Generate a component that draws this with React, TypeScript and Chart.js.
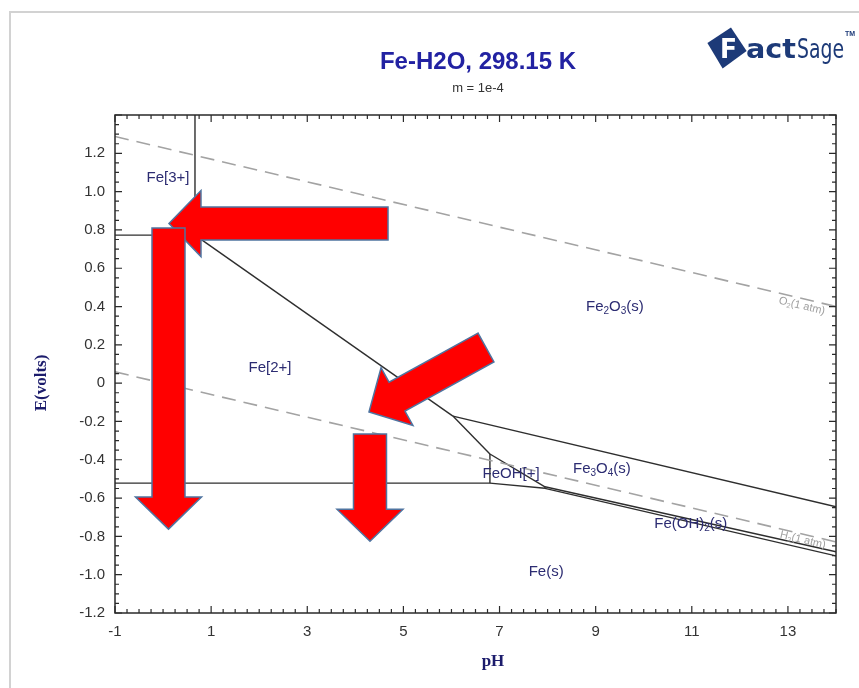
import React, { useEffect, useRef } from 'react';
import { Chart, registerables } from 'chart.js';

Chart.register(...registerables);

type Pt = { x: number; y: number };

// ---- axes ----
const PH_MIN = -1;
const PH_MAX = 14;
const E_MIN = -1.2;
const E_MAX = 1.4;
const X_TICKS = [-1, 1, 3, 5, 7, 9, 11, 13];
const Y_TICKS = [-1.2, -1.0, -0.8, -0.6, -0.4, -0.2, 0, 0.2, 0.4, 0.6, 0.8, 1.0, 1.2];

// ---- phase boundaries (pH, E volts) ----
const FE3_FE2O3: Pt[] = [{ x: 0.664, y: 1.4 }, { x: 0.664, y: 0.773 }];
const FE3_FE2: Pt[] = [{ x: -1, y: 0.773 }, { x: 0.664, y: 0.773 }];
const FE2_FE2O3: Pt[] = [{ x: 0.664, y: 0.773 }, { x: 6.03, y: -0.172 }];
const FE2_FE3O4: Pt[] = [{ x: 6.03, y: -0.172 }, { x: 6.8, y: -0.37 }];
const FE2O3_FE3O4: Pt[] = [{ x: 6.03, y: -0.172 }, { x: 14, y: -0.645 }];
const FE2_FEOH: Pt[] = [{ x: 6.8, y: -0.37 }, { x: 6.8, y: -0.522 }];
const FE2_FE: Pt[] = [{ x: -1, y: -0.522 }, { x: 6.8, y: -0.522 }];
const FEOH_FE3O4: Pt[] = [{ x: 6.8, y: -0.37 }, { x: 7.945, y: -0.541 }];
const FEOH_FE: Pt[] = [{ x: 6.8, y: -0.522 }, { x: 7.945, y: -0.549 }];
const FEOH_FEOH2: Pt[] = [{ x: 7.945, y: -0.541 }, { x: 7.945, y: -0.549 }];
const FE3O4_FEOH2: Pt[] = [{ x: 7.945, y: -0.541 }, { x: 14, y: -0.88 }];
const FEOH2_FE: Pt[] = [{ x: 7.945, y: -0.549 }, { x: 14, y: -0.902 }];

// ---- water stability lines ----
const O2_LINE: Pt[] = [{ x: -1, y: 1.288 }, { x: 14, y: 0.4 }];
const H2_LINE: Pt[] = [{ x: -1, y: 0.059 }, { x: 14, y: -0.829 }];

// ---- labels ----
const REGION_LABELS = [
  { text: 'Fe[3+]', x: 0.103, y: 1.071 },
  { text: 'Fe[2+]', x: 2.224, y: 0.079 },
  { text: 'Fe_2O_3(s)', x: 9.4, y: 0.397 },
  { text: 'Fe_3O_4(s)', x: 9.13, y: -0.449 },
  { text: 'FeOH[+]', x: 7.24, y: -0.475 },
  { text: 'Fe(OH)_2(s)', x: 10.98, y: -0.736 },
  { text: 'Fe(s)', x: 7.97, y: -0.986 },
];
const GAS_LABELS = [
  { text: 'O_2(1 atm)', x: 13.29, y: 0.403, line: O2_LINE },
  { text: 'H_2(1 atm)', x: 13.31, y: -0.819, line: H2_LINE },
];

// ---- annotation arrows (tail -> tip, in pH/E) ----
const ARROWS = [
  { from: { x: 4.68, y: 0.833 }, to: { x: 0.123, y: 0.833 } },
  { from: { x: 0.113, y: 0.81 }, to: { x: 0.113, y: -0.762 } },
  { from: { x: 6.718, y: 0.186 }, to: { x: 4.284, y: -0.151 } },
  { from: { x: 4.305, y: -0.266 }, to: { x: 4.305, y: -0.825 } },
];

const TITLE = 'Fe-H2O, 298.15 K';
const SUBTITLE = 'm = 1e-4';
const X_TITLE = 'pH';
const Y_TITLE = 'E(volts)';

const SANS = "'Liberation Sans', Arial, sans-serif";
const SERIF = "'Liberation Serif', 'Times New Roman', serif";

function drawRich(ctx: CanvasRenderingContext2D, text: string, cx: number, cy: number, size: number, color: string) {
  const segs: { t: string; sub: boolean }[] = [];
  let buf = '';
  for (let i = 0; i < text.length; i++) {
    if (text[i] === '_' && i + 1 < text.length) {
      if (buf) segs.push({ t: buf, sub: false });
      buf = '';
      segs.push({ t: text[i + 1], sub: true });
      i++;
    } else buf += text[i];
  }
  if (buf) segs.push({ t: buf, sub: false });
  const subSize = Math.round(size * 0.68);
  let total = 0;
  const widths = segs.map((s) => {
    ctx.font = `${s.sub ? subSize : size}px ${SANS}`;
    const w = ctx.measureText(s.t).width;
    total += w;
    return w;
  });
  let x = cx - total / 2;
  ctx.fillStyle = color;
  ctx.textAlign = 'left';
  ctx.textBaseline = 'middle';
  segs.forEach((s, i) => {
    ctx.font = `${s.sub ? subSize : size}px ${SANS}`;
    ctx.fillText(s.t, x, s.sub ? cy + size * 0.3 : cy);
    x += widths[i];
  });
}

function drawArrow(ctx: CanvasRenderingContext2D, x1: number, y1: number, x2: number, y2: number) {
  const bodyHalf = 16.5;
  const headHalf = 33;
  const headLen = 32;
  const dx = x2 - x1;
  const dy = y2 - y1;
  const len = Math.hypot(dx, dy);
  const ux = dx / len;
  const uy = dy / len;
  const nx = -uy;
  const ny = ux;
  const bx = x2 - ux * headLen;
  const by = y2 - uy * headLen;
  ctx.beginPath();
  ctx.moveTo(x1 + nx * bodyHalf, y1 + ny * bodyHalf);
  ctx.lineTo(bx + nx * bodyHalf, by + ny * bodyHalf);
  ctx.lineTo(bx + nx * headHalf, by + ny * headHalf);
  ctx.lineTo(x2, y2);
  ctx.lineTo(bx - nx * headHalf, by - ny * headHalf);
  ctx.lineTo(bx - nx * bodyHalf, by - ny * bodyHalf);
  ctx.lineTo(x1 - nx * bodyHalf, y1 - ny * bodyHalf);
  ctx.closePath();
  ctx.fillStyle = '#ff0000';
  ctx.fill();
  ctx.strokeStyle = '#4f74a0';
  ctx.lineWidth = 1.5;
  ctx.lineJoin = 'miter';
  ctx.stroke();
}

function fitText(ctx: CanvasRenderingContext2D, text: string, x: number, y: number, w: number) {
  const m = ctx.measureText(text).width;
  ctx.save();
  ctx.translate(x, y);
  ctx.scale(w / m, 1);
  ctx.fillText(text, 0, 0);
  ctx.restore();
}

const decorPlugin = {
  id: 'decor',
  beforeDraw(chart: any) {
    const ctx: CanvasRenderingContext2D = chart.ctx;
    ctx.save();
    ctx.strokeStyle = '#d2d2d2';
    ctx.lineWidth = 2;
    ctx.beginPath();
    ctx.moveTo(10, 700);
    ctx.lineTo(10, 12);
    ctx.lineTo(870, 12);
    ctx.stroke();
    ctx.restore();
  },
  afterDatasetsDraw(chart: any) {
    const ctx: CanvasRenderingContext2D = chart.ctx;
    const xs = chart.scales.x;
    const ys = chart.scales.y;
    ctx.save();
    REGION_LABELS.forEach((l) => {
      drawRich(ctx, l.text, xs.getPixelForValue(l.x), ys.getPixelForValue(l.y), 15, '#2c2c72');
    });
    GAS_LABELS.forEach((l) => {
      const p0 = l.line[0];
      const p1 = l.line[1];
      const ang = Math.atan2(
        ys.getPixelForValue(p1.y) - ys.getPixelForValue(p0.y),
        xs.getPixelForValue(p1.x) - xs.getPixelForValue(p0.x)
      );
      ctx.save();
      ctx.translate(xs.getPixelForValue(l.x), ys.getPixelForValue(l.y));
      ctx.rotate(ang);
      drawRich(ctx, l.text, 0, 0, 11, '#a0a0a0');
      ctx.restore();
    });
    ctx.restore();
  },
  afterDraw(chart: any) {
    const ctx: CanvasRenderingContext2D = chart.ctx;
    const xs = chart.scales.x;
    const ys = chart.scales.y;
    const { left, right, top, bottom } = chart.chartArea;
    ctx.save();
    // frame
    ctx.strokeStyle = '#2a2a2a';
    ctx.lineWidth = 1.5;
    ctx.strokeRect(left, top, right - left, bottom - top);
    // ticks
    ctx.lineWidth = 1.2;
    ctx.beginPath();
    for (let i = 0; i <= 60; i++) {
      const v = PH_MIN + i * 0.25;
      const px = xs.getPixelForValue(v);
      const major = i % 8 === 0;
      const l = major ? 7 : 4;
      ctx.moveTo(px, bottom);
      ctx.lineTo(px, bottom - l);
      ctx.moveTo(px, top);
      ctx.lineTo(px, top + l);
    }
    for (let i = 0; i <= 52; i++) {
      const v = E_MIN + i * 0.05;
      const py = ys.getPixelForValue(v);
      const major = i % 4 === 0;
      const l = major ? 7 : 4;
      ctx.moveTo(left, py);
      ctx.lineTo(left + l, py);
      ctx.moveTo(right, py);
      ctx.lineTo(right - l, py);
    }
    ctx.stroke();

    // titles
    ctx.textAlign = 'center';
    ctx.textBaseline = 'middle';
    ctx.fillStyle = '#2222a2';
    ctx.font = `bold 24px ${SANS}`;
    ctx.fillText(TITLE, 478, 62);
    ctx.fillStyle = '#333';
    ctx.font = `13px ${SANS}`;
    ctx.fillText(SUBTITLE, 478, 88);

    // axis titles
    ctx.fillStyle = '#1c1c6c';
    ctx.font = `bold 17px ${SERIF}`;
    ctx.fillText(X_TITLE, 493, 662);
    ctx.save();
    ctx.translate(42, 383);
    ctx.rotate(-Math.PI / 2);
    ctx.fillText(Y_TITLE, 0, 0);
    ctx.restore();

    // FactSage logo
    ctx.save();
    ctx.translate(727, 47);
    ctx.rotate(0.2);
    ctx.fillStyle = '#1d3a78';
    ctx.beginPath();
    ctx.moveTo(-20, 0);
    ctx.lineTo(0, -20);
    ctx.lineTo(20, 0);
    ctx.lineTo(0, 22);
    ctx.closePath();
    ctx.fill();
    ctx.restore();
    ctx.textAlign = 'left';
    ctx.textBaseline = 'alphabetic';
    ctx.fillStyle = '#ffffff';
    ctx.font = `bold 27px 'DejaVu Sans', sans-serif`;
    fitText(ctx, 'F', 720, 58, 17);
    ctx.fillStyle = '#1d3a78';
    fitText(ctx, 'act', 746, 58, 50);
    ctx.font = `27px 'DejaVu Sans', sans-serif`;
    fitText(ctx, 'Sage', 797, 58, 47);
    ctx.font = `bold 7px ${SANS}`;
    ctx.fillText('TM', 845, 36);

    // arrows
    ARROWS.forEach((a) => {
      drawArrow(
        ctx,
        xs.getPixelForValue(a.from.x),
        ys.getPixelForValue(a.from.y),
        xs.getPixelForValue(a.to.x),
        ys.getPixelForValue(a.to.y)
      );
    });
    ctx.restore();
  },
};

const solid = (data: Pt[]) => ({
  data,
  showLine: true,
  borderColor: '#2e2e2e',
  borderWidth: 1.4,
  pointRadius: 0,
  fill: false,
});
const dashed = (data: Pt[]) => ({
  data,
  showLine: true,
  borderColor: '#a3a3a3',
  borderWidth: 1.6,
  borderDash: [14, 8],
  pointRadius: 0,
  fill: false,
});

export default function App() {
  const ref = useRef<HTMLCanvasElement>(null);
  useEffect(() => {
    if (!ref.current) return;
    const chart = new Chart(ref.current, {
      type: 'scatter',
      data: {
        datasets: [
          dashed(O2_LINE),
          dashed(H2_LINE),
          solid(FE3_FE2O3),
          solid(FE3_FE2),
          solid(FE2_FE2O3),
          solid(FE2_FE3O4),
          solid(FE2O3_FE3O4),
          solid(FE2_FEOH),
          solid(FE2_FE),
          solid(FEOH_FE3O4),
          solid(FEOH_FE),
          solid(FEOH_FEOH2),
          solid(FE3O4_FEOH2),
          solid(FEOH2_FE),
        ] as any,
      },
      options: {
        animation: false,
        responsive: false,
        devicePixelRatio: 1,
        layout: { padding: { left: 0, right: 23, top: 115, bottom: 0 } },
        plugins: { legend: { display: false }, tooltip: { enabled: false }, title: { display: false } },
        scales: {
          x: {
            type: 'linear',
            min: PH_MIN,
            max: PH_MAX,
            grid: { display: false, drawTicks: false },
            border: { display: false },
            afterBuildTicks: (s: any) => {
              s.ticks = X_TICKS.map((v) => ({ value: v }));
            },
            afterFit: (s: any) => {
              s.height = 75;
            },
            ticks: {
              autoSkip: false,
              maxRotation: 0,
              padding: 10,
              color: '#333',
              font: { family: SANS, size: 15 },
              callback: (v: any) => String(v),
            },
          },
          y: {
            type: 'linear',
            min: E_MIN,
            max: E_MAX,
            grid: { display: false, drawTicks: false },
            border: { display: false },
            afterBuildTicks: (s: any) => {
              s.ticks = Y_TICKS.map((v) => ({ value: v }));
            },
            afterFit: (s: any) => {
              s.width = 115;
            },
            ticks: {
              autoSkip: false,
              padding: 10,
              color: '#333',
              font: { family: SANS, size: 15 },
              callback: (v: any) => (Math.abs(v) < 1e-9 ? '0' : Number(v).toFixed(1)),
            },
          },
        },
      } as any,
      plugins: [decorPlugin],
    });
    return () => chart.destroy();
  }, []);
  return (
    <div
      style={{
        position: 'absolute',
        left: 0,
        top: 0,
        width: 859,
        height: 688,
        overflow: 'hidden',
        background: '#fff',
      }}
    >
      <canvas ref={ref} width={859} height={688} style={{ display: 'block', width: 859, height: 688 }} />
    </div>
  );
}
